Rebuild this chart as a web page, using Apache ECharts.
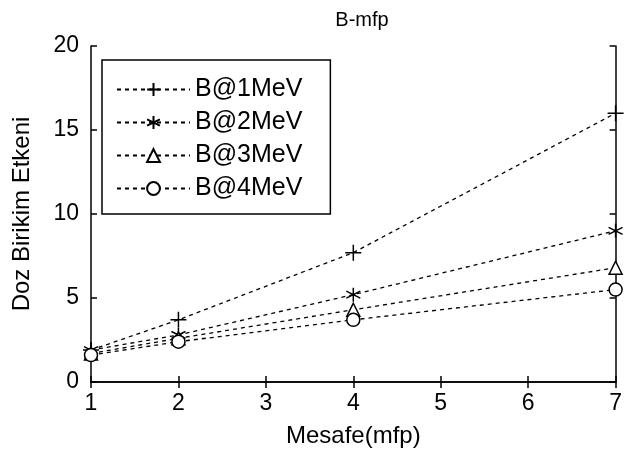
<!DOCTYPE html>
<html><head><meta charset="utf-8">
<script src="https://cdn.jsdelivr.net/npm/echarts@6/dist/echarts.min.js"></script>
<style>html,body{margin:0;padding:0;background:#fff}#c{width:625px;height:458px}</style>
</head><body><div id="c"></div>
<script>
const xValues = [1, 2, 4, 7];
const seriesNames = ['B@1MeV', 'B@2MeV', 'B@3MeV', 'B@4MeV'];
const b1 = [1.9, 3.7, 7.7, 16.0];
const b2 = [1.9, 2.8, 5.2, 9.0];
const b3 = [1.7, 2.6, 4.3, 6.8];
const b4 = [1.6, 2.4, 3.7, 5.5];
const xTicks = [1, 2, 3, 4, 5, 6, 7];
const yTicks = [0, 5, 10, 15, 20];

const FONT = 'Liberation Sans';
const symbols = [
  'path://M0,-1L0,1M-1,0L1,0',
  'path://M0,-1L0,1M-0.87,-0.5L0.87,0.5M-0.87,0.5L0.87,-0.5',
  'triangle',
  'circle'
];
const sizes = [16, 14, 13, 13];
const allData = [b1, b2, b3, b4];

const chart = echarts.init(document.getElementById('c'));
const axisCommon = {
  axisLine: {show: true, lineStyle: {color: '#000', width: 1.5}},
  axisTick: {show: true, inside: true, length: 6, lineStyle: {color: '#000', width: 1.5}},
  splitLine: {show: false}
};
chart.setOption({
  animation: false,
  backgroundColor: '#fff',
  title: {text: 'B-mfp', left: 357, top: 5, textAlign: 'center',
    textStyle: {fontFamily: FONT, fontSize: 20, fontWeight: 'normal', color: '#000'}},
  grid: {left: 91, right: 5, top: 46, bottom: 76},
  legend: {
    left: 102, top: 60, orient: 'vertical',
    padding: [17, 28, 13, 14],
    itemGap: 8, itemWidth: 73, itemHeight: 16,
    borderColor: '#000', borderWidth: 1.5, backgroundColor: '#fff',
    textStyle: {fontFamily: FONT, fontSize: 25, color: '#000'},
    data: seriesNames
  },
  xAxis: [
    Object.assign({type: 'value', min: 1, max: 7, interval: 1, position: 'bottom',
      name: 'Mesafe(mfp)', nameLocation: 'middle', nameGap: 42,
      nameTextStyle: {fontFamily: FONT, fontSize: 24, color: '#000'},
      axisLabel: {fontFamily: FONT, fontSize: 23, color: '#000', margin: 10}}, axisCommon),
    Object.assign({type: 'value', min: 1, max: 7, interval: 1, position: 'top',
      axisLabel: {show: false}}, axisCommon)
  ],
  yAxis: [
    Object.assign({type: 'value', min: 0, max: 20, interval: 5, position: 'left',
      name: 'Doz Birikim Etkeni', nameLocation: 'middle', nameGap: 57, nameRotate: 90,
      nameTextStyle: {fontFamily: FONT, fontSize: 24, color: '#000'},
      axisLabel: {fontFamily: FONT, fontSize: 23, color: '#000', margin: 12}}, axisCommon),
    Object.assign({type: 'value', min: 0, max: 20, interval: 5, position: 'right',
      axisLabel: {show: false}}, axisCommon)
  ],
  series: seriesNames.map((n, i) => ({
    name: n, type: 'line',
    xAxisIndex: 0, yAxisIndex: 0,
    data: xValues.map((x, j) => [x, allData[i][j]]),
    symbol: symbols[i], symbolSize: sizes[i], showSymbol: true,
    lineStyle: {color: '#000', width: 1.3, type: [4, 4]},
    itemStyle: {color: i < 2 ? '#000' : '#fff', borderColor: '#000', borderWidth: 1.5},
    z: 3
  }))
});
</script></body></html>
